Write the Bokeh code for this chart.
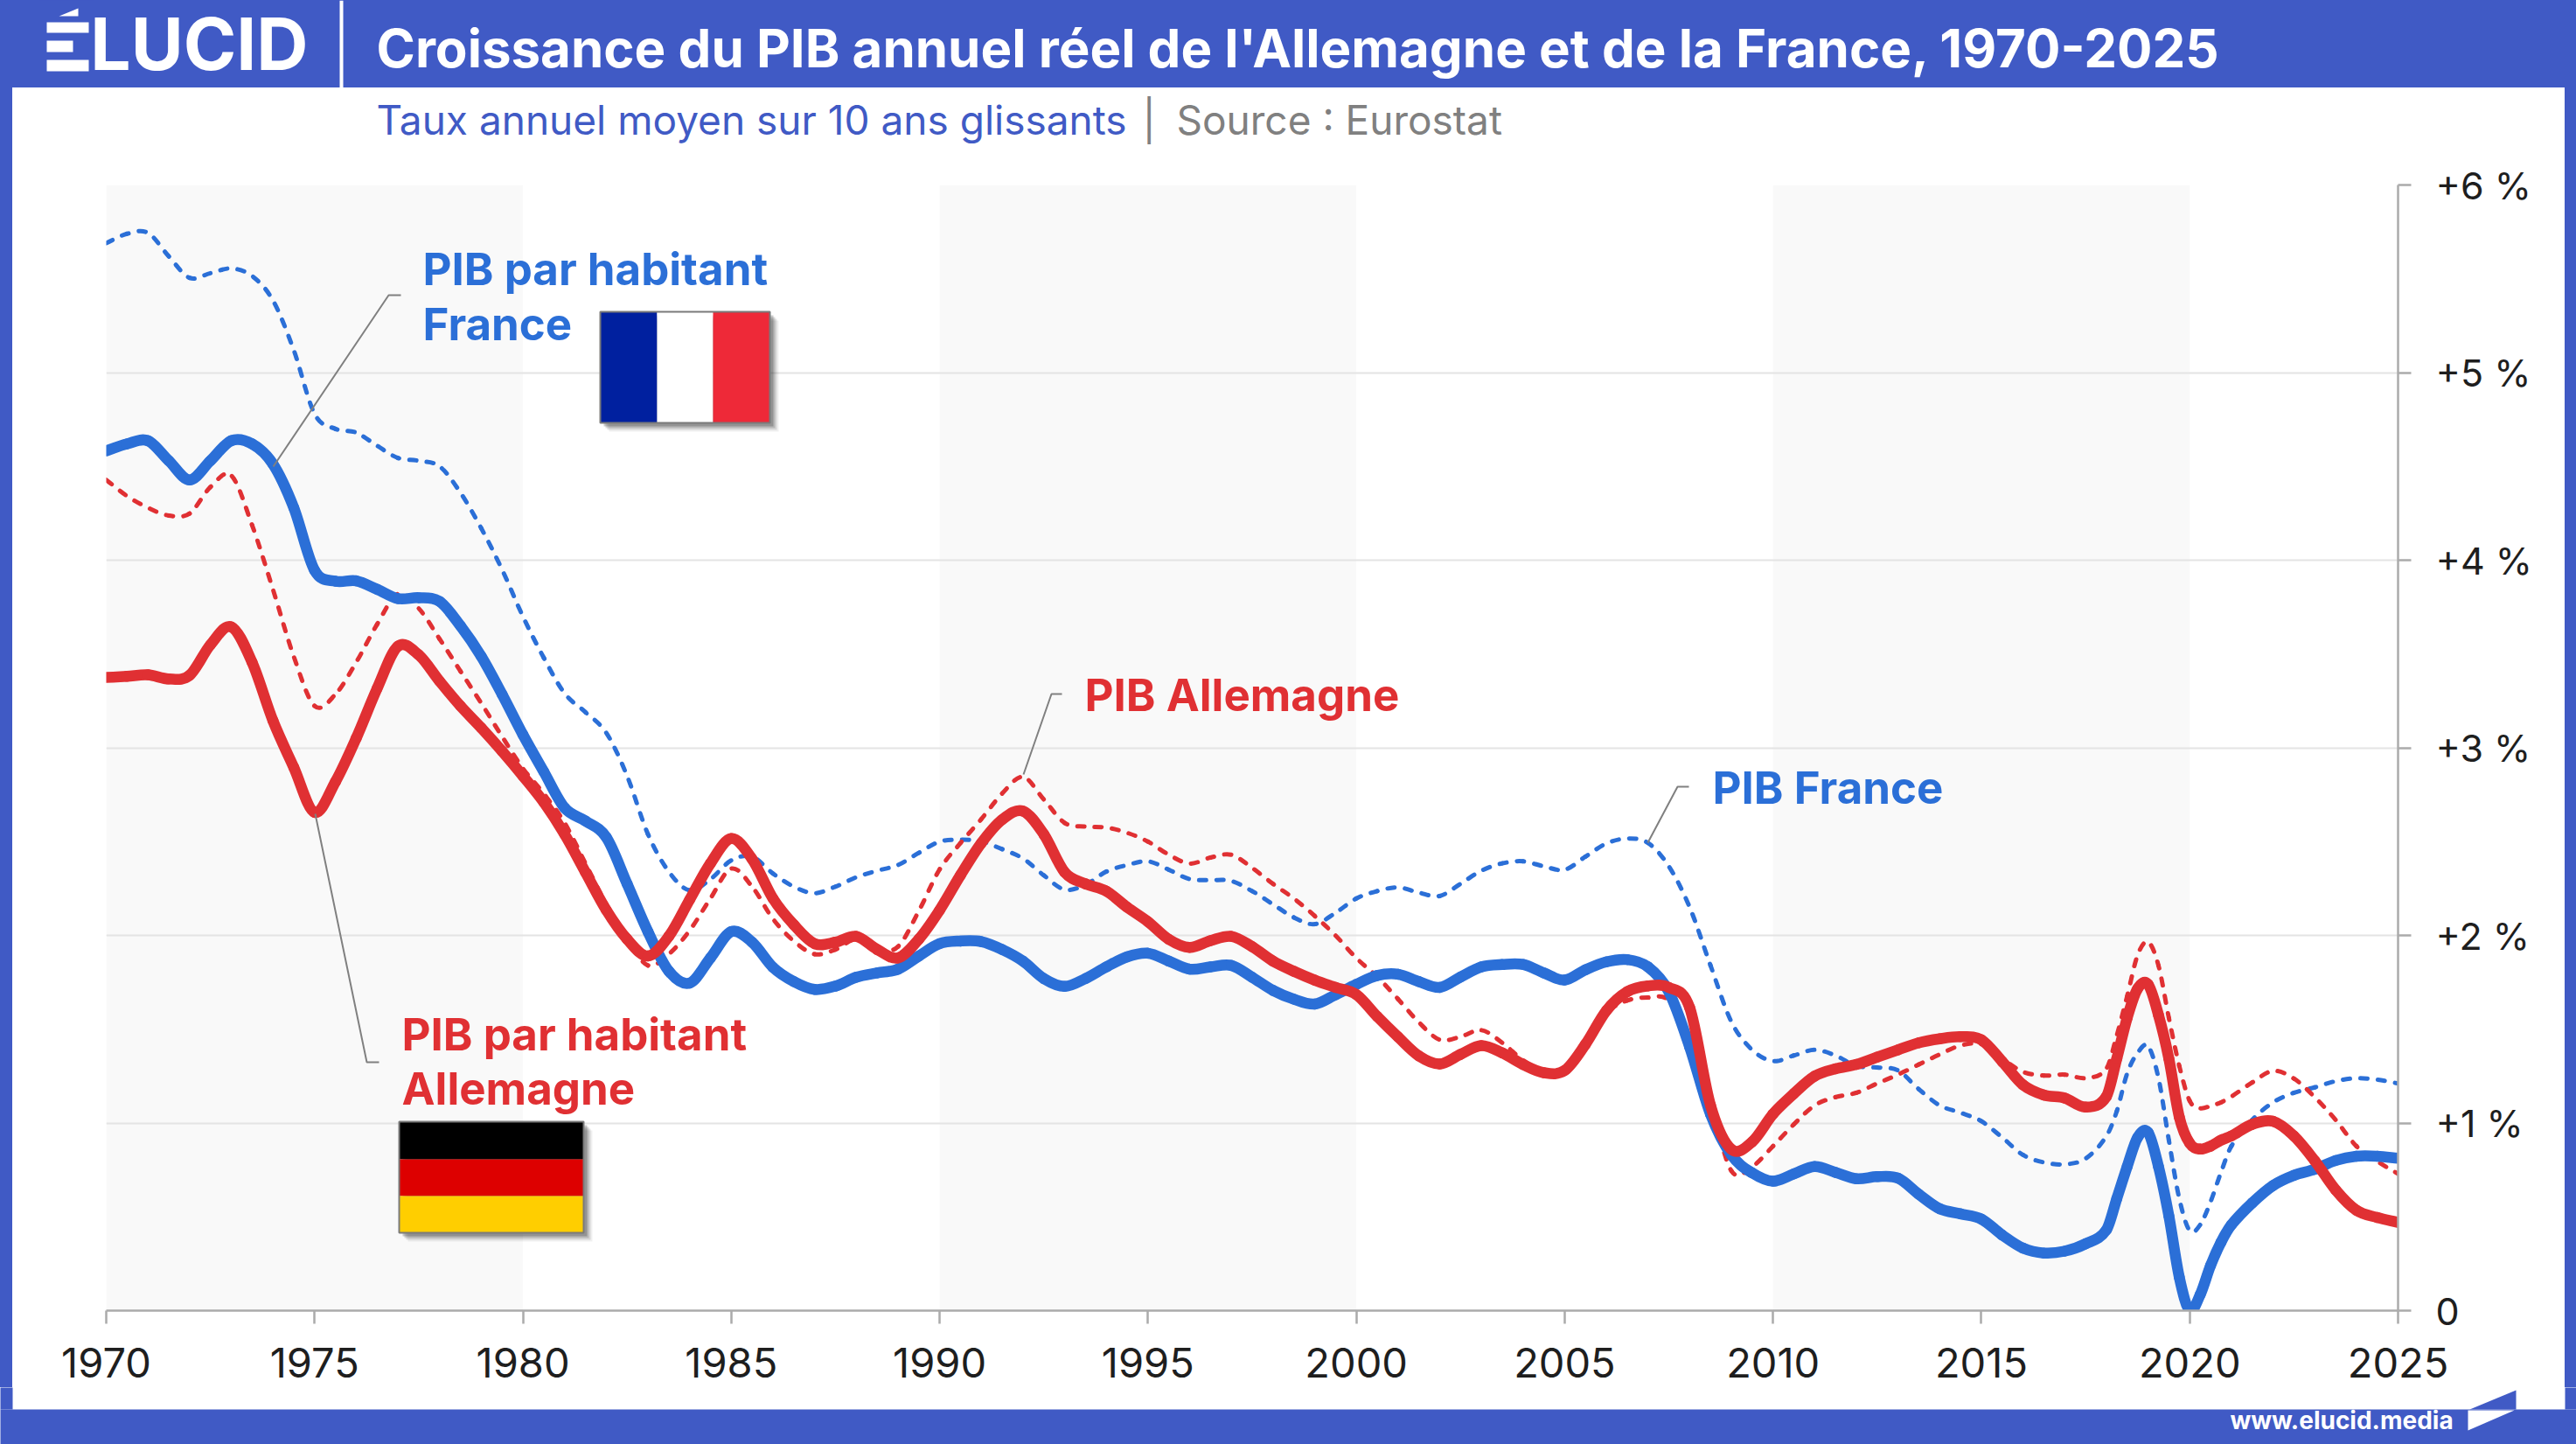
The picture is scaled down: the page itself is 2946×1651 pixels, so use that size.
from bokeh.plotting import figure
from bokeh.layouts import column
from bokeh.models import Range1d, FixedTicker
from bokeh.core.properties import value
from bokeh.embed import file_html
from bokeh.resources import INLINE

years = [1970,1970.5,1971,1971.5,1972,1972.5,1973,1973.5,1974,1974.5,
         1975,1975.5,1976,1976.5,1977,1977.5,1978,1978.5,1979,1979.5,
         1980,1980.5,1981,1981.5,1982,1982.5,1983,1983.5,1984,1984.5,
         1985,1985.5,1986,1986.5,1987,1987.5,1988,1988.5,1989,1989.5,
         1990,1990.5,1991,1991.5,1992,1992.5,1993,1993.5,1994,1994.5,
         1995,1995.5,1996,1996.5,1997,1997.5,1998,1998.5,1999,1999.5,
         2000,2000.5,2001,2001.5,2002,2002.5,2003,2003.5,2004,2004.5,
         2005,2005.5,2006,2006.5,2007,2007.5,2008,2008.5,2009,2009.5,
         2010,2010.5,2011,2011.5,2012,2012.5,2013,2013.5,2014,2014.5,
         2015,2015.5,2016,2016.5,2017,2017.5,
         2018,2018.25,2018.5,2018.75,2019,2019.25,2019.5,2019.75,2020,2020.25,2020.5,2020.75,
         2021,2021.5,2022,2022.5,2023,2023.5,2024,2024.5,2025]

pib_france = [5.69,5.74,5.745,5.62,5.505,5.53,5.555,5.515,5.385,5.12,
              4.78,4.70,4.68,4.61,4.545,4.53,4.50,4.36,4.17,3.95,
              3.70,3.48,3.29,3.19,3.08,2.85,2.54,2.34,2.24,2.30,
              2.40,2.42,2.33,2.26,2.225,2.26,2.31,2.345,2.375,2.44,
              2.50,2.51,2.50,2.46,2.41,2.32,2.244,2.27,2.34,2.375,
              2.395,2.35,2.30,2.295,2.29,2.236,2.166,2.096,2.06,2.12,
              2.197,2.236,2.256,2.228,2.21,2.275,2.345,2.384,2.395,2.368,
              2.35,2.42,2.49,2.516,2.493,2.368,2.15,1.84,1.54,1.39,
              1.33,1.36,1.39,1.36,1.304,1.296,1.28,1.18,1.094,1.055,
              1.01,0.923,0.83,0.79,0.78,0.81,
              0.93,1.063,1.265,1.374,1.41,1.24,0.908,0.597,0.426,0.457,0.58,0.737,
              0.877,1.017,1.11,1.161,1.19,1.223,1.239,1.231,1.211]

pib_allemagne = [4.428,4.342,4.28,4.238,4.249,4.39,4.451,4.187,3.845,3.487,
                 3.223,3.285,3.456,3.658,3.82,3.743,3.58,3.409,3.238,3.06,
                 2.89,2.756,2.60,2.384,2.166,1.98,1.84,1.90,2.026,2.197,
                 2.356,2.26,2.088,1.97,1.90,1.925,1.98,1.925,1.94,2.13,
                 2.352,2.492,2.62,2.756,2.845,2.725,2.60,2.58,2.575,2.547,
                 2.50,2.43,2.383,2.415,2.43,2.36,2.275,2.197,2.104,2.00,
                 1.879,1.78,1.661,1.537,1.444,1.46,1.495,1.428,1.335,1.273,
                 1.27,1.405,1.584,1.653,1.669,1.653,1.44,1.11,0.745,0.768,
                 0.877,0.993,1.094,1.138,1.161,1.211,1.258,1.312,1.366,1.413,
                 1.42,1.343,1.273,1.253,1.258,1.24,
                 1.29,1.467,1.677,1.895,1.965,1.84,1.56,1.304,1.118,1.079,1.091,1.11,
                 1.141,1.216,1.278,1.237,1.138,1.017,0.877,0.796,0.729]

hab_france = [4.583,4.62,4.637,4.53,4.428,4.53,4.637,4.62,4.513,4.28,
              3.946,3.888,3.89,3.845,3.795,3.80,3.78,3.65,3.487,3.285,
              3.07,2.873,2.68,2.61,2.523,2.275,2.02,1.81,1.746,1.88,
              2.02,1.964,1.83,1.754,1.712,1.73,1.777,1.80,1.82,1.89,
              1.956,1.97,1.967,1.925,1.863,1.77,1.728,1.77,1.832,1.886,
              1.905,1.863,1.82,1.832,1.84,1.777,1.707,1.66,1.634,1.684,
              1.739,1.786,1.793,1.754,1.723,1.778,1.832,1.845,1.845,1.80,
              1.762,1.817,1.859,1.871,1.832,1.70,1.405,1.047,0.83,0.734,
              0.69,0.729,0.768,0.737,0.703,0.714,0.706,0.62,0.543,0.516,
              0.488,0.403,0.333,0.307,0.317,0.356,
              0.43,0.597,0.768,0.923,0.95,0.768,0.504,0.178,0.0,0.084,0.24,0.364,
              0.457,0.574,0.667,0.721,0.753,0.80,0.823,0.823,0.812]

hab_allemagne = [3.375,3.381,3.389,3.367,3.386,3.549,3.645,3.456,3.145,2.896,
                 2.656,2.819,3.052,3.316,3.541,3.495,3.355,3.223,3.106,2.982,
                 2.85,2.71,2.539,2.337,2.135,1.98,1.89,1.995,2.19,2.384,
                 2.516,2.407,2.197,2.057,1.956,1.964,1.995,1.925,1.88,1.98,
                 2.135,2.321,2.492,2.617,2.663,2.539,2.337,2.275,2.236,2.15,
                 2.073,1.979,1.936,1.972,1.995,1.94,1.863,1.809,1.762,1.723,
                 1.685,1.568,1.459,1.358,1.315,1.366,1.413,1.374,1.312,1.268,
                 1.28,1.42,1.599,1.70,1.731,1.723,1.615,1.094,0.86,0.90,
                 1.048,1.157,1.25,1.289,1.312,1.351,1.39,1.428,1.449,1.46,
                 1.444,1.328,1.203,1.149,1.133,1.085,
                 1.141,1.343,1.561,1.716,1.739,1.576,1.343,1.032,0.892,0.861,0.877,0.908,
                 0.931,0.993,1.009,0.931,0.799,0.644,0.535,0.496,0.47]

band_start = [1970, 1990, 2010]
band_end = [1980, 2000, 2020]
x_ticks = [1970,1975,1980,1985,1990,1995,2000,2005,2010,2015,2020,2025]
y_ticks = [0,1,2,3,4,5,6]
y_labels = ["0","+1 %","+2 %","+3 %","+4 %","+5 %","+6 %"]

TITLE = "Croissance du PIB annuel réel de l'Allemagne et de la France, 1970-2025"
FRAME = "#405AC5"; BLUE = "#2B6FD7"; RED = "#E03033"; LEAD = "#808080"; FONT = "Inter"
L, R, T, B = 121, 2742, 211, 1498   # plot frame in page pixels
XPX = (R - L) / 55; YPX = (B - T) / 6
LIFT = 0.375   # the text baseline sits this many ems lower than asked for
SUB_BOTTOM = 185
OVERLAP = 2

main = figure(width=2919, height=1611-SUB_BOTTOM+OVERLAP, output_backend="svg", toolbar_location=None,
              x_range=Range1d(1970, 2025), y_range=Range1d(0, 6), y_axis_location="right",
              min_border_left=L-14, min_border_right=2933-R, min_border_top=T-SUB_BOTTOM+OVERLAP, min_border_bottom=1611-B,
              background_fill_color="white", border_fill_color="white", margin=(-OVERLAP, 13, 0, 14),
              frame_align=False, styles={"background-color": "white"})
p = main
p.outline_line_color = None
p.xgrid.visible = False
p.ygrid.ticker = FixedTicker(ticks=y_ticks)
p.ygrid.grid_line_color = "#E4E4E4"
p.ygrid.grid_line_width = 2

for ax in (p.xaxis[0], p.yaxis[0]):
    ax.axis_line_color = "#ABABAB"; ax.axis_line_width = 2.5
    ax.major_tick_line_color = "#ABABAB"; ax.major_tick_line_width = 2.5
    ax.major_tick_in = 0; ax.major_tick_out = 15
    ax.minor_tick_line_color = None
    ax.major_label_text_font = FONT
    ax.major_label_text_color = "#1E1E1E"
    ax.major_label_standoff = 27
p.yaxis[0].major_label_standoff = 28
p.xaxis[0].major_label_text_font_size = "47px"
p.yaxis[0].major_label_text_font_size = "43px"
p.xaxis[0].ticker = FixedTicker(ticks=x_ticks)
p.xaxis[0].major_label_overrides = {t: str(t) for t in x_ticks}
p.yaxis[0].ticker = FixedTicker(ticks=y_ticks)
p.yaxis[0].major_label_overrides = dict(zip(y_ticks, y_labels))

def dx(X): return 1970 + (X - L) / XPX
def dy(Y): return (B - Y) / YPX

p.quad(left=band_start, right=band_end, bottom=0, top=6, fill_color="#F9F9F9", line_color=None, level="image")

def smooth(xs, ys, color, width, dash=None):
    """Draw the read values as a smooth curve, one Bezier segment per pair of points."""
    n = len(xs)
    slope = [(ys[min(i+1, n-1)] - ys[max(i-1, 0)]) / (xs[min(i+1, n-1)] - xs[max(i-1, 0)]) for i in range(n)]
    x0, y0, x1, y1, cx0, cy0, cx1, cy1, off = [], [], [], [], [], [], [], [], []
    run = 0.0
    for i in range(n-1):
        h = xs[i+1] - xs[i]
        x0.append(xs[i]); y0.append(ys[i]); x1.append(xs[i+1]); y1.append(ys[i+1])
        cx0.append(xs[i] + h/3); cy0.append(ys[i] + slope[i]*h/3)
        cx1.append(xs[i+1] - h/3); cy1.append(ys[i+1] - slope[i+1]*h/3)
        off.append(run)
        pts = [(x0[-1], y0[-1]), (cx0[-1], cy0[-1]), (cx1[-1], cy1[-1]), (x1[-1], y1[-1])]
        plen = sum((((pts[k+1][0]-pts[k][0])*XPX)**2 + ((pts[k+1][1]-pts[k][1])*YPX)**2)**0.5 for k in range(3))
        chord = (((pts[3][0]-pts[0][0])*XPX)**2 + ((pts[3][1]-pts[0][1])*YPX)**2)**0.5
        run += (plen + chord) / 2
    kw = dict(line_color=color, line_width=width, line_cap="round")
    if dash:
        kw["line_dash"] = dash
        kw["line_dash_offset"] = off
    p.bezier(x0=x0, y0=y0, x1=x1, y1=y1, cx0=cx0, cy0=cy0, cx1=cx1, cy1=cy1, **kw)

smooth(years, pib_france, BLUE, 5, "8 12")
smooth(years, pib_allemagne, RED, 5, "8 12")
smooth(years, hab_france, BLUE, 12.5)
smooth(years, hab_allemagne, RED, 12.5)

# leader lines
for pts in ([(312,533),(444,337),(458,337)], [(360,930),(419,1214),(433,1214)],
            [(1170,885),(1202,793),(1214,793)], [(1884,963),(1918,899),(1931,899)]):
    p.line([dx(a) for a,_ in pts], [dy(b) for _,b in pts], line_color=LEAD, line_width=2)

# flags
def flag_rect(x0, x1, y0, y1, color, **kw):
    p.quad(left=dx(x0), right=dx(x1), top=dy(y0), bottom=dy(y1), fill_color=color, line_color=None, **kw)

for (x0,x1,y0,y1) in ((686,880,356,483),(456,667,1282,1409)):
    for off, a in ((10,0.06),(8,0.10),(6,0.14),(4,0.2)):
        flag_rect(x0+off, x1+off, y0+off, y1+off, "#000000", fill_alpha=a)
flag_rect(686, 751, 356, 483, "#00209F")
flag_rect(751, 815, 356, 483, "#FFFFFF")
flag_rect(815, 880, 356, 483, "#EE2938")
flag_rect(456, 667, 1282, 1325, "#000000")
flag_rect(456, 667, 1325, 1367, "#DD0000")
flag_rect(456, 667, 1367, 1409, "#FFCE00")
for (x0,x1,y0,y1) in ((686,880,356,483),(456,667,1282,1409)):
    p.quad(left=dx(x0), right=dx(x1), top=dy(y0), bottom=dy(y1), fill_color=None, line_color="#7A7A7A", line_width=2)

def txt(fig, x, y, s, size, color, bold=False):
    fig.text(x=[x], y=[y], text=[s], text_font=value(FONT), text_font_size=f"{size}px", text_color=color,
             text_baseline="alphabetic", text_align="left", text_font_style="bold" if bold else "normal")

def mtxt(X, Y, s, size, color, bold=False):
    txt(main, dx(X), dy(Y - LIFT*size), s, size, color, bold)

mtxt(483, 326, "PIB par habitant", 51, BLUE, True)
mtxt(483, 389, "France", 51, BLUE, True)
mtxt(1240, 813, "PIB Allemagne", 51, RED, True)
mtxt(1958, 919, "PIB France", 51, BLUE, True)
mtxt(459, 1201, "PIB par habitant", 51, RED, True)
mtxt(459, 1263, "Allemagne", 51, RED, True)

def strip(width, height, x0, x1, y0, y1, fill):
    f = figure(width=width, height=height, output_backend="svg", toolbar_location=None,
               x_range=Range1d(x0, x1), y_range=Range1d(y1, y0),
               min_border=0, background_fill_color=fill, border_fill_color=fill, frame_align=False,
               styles={"background-color": fill})
    f.axis.visible = False
    f.grid.visible = False
    f.outline_line_color = None
    return f

header = strip(2946, 100, 0, 2946, 0, 100, FRAME)
header.quad(left=388, right=392, top=0, bottom=100, fill_color="#FFFFFF", line_color=None)
txt(header, 53, 81 - LIFT*82, "ÉLUCID", 82, "#FFFFFF", True)
# the logo's striped E with its wedge accent
header.quad(left=45, right=107, top=0, bottom=92, fill_color=FRAME, line_color=None)
header.quad(left=[53, 53, 53], right=[101, 83, 101], top=[25, 46, 68], bottom=[37, 59, 81], fill_color="#FFFFFF", line_color=None)
header.patch(x=[67, 89, 89], y=[18, 9, 18], fill_color="#FFFFFF", line_color=None)
txt(header, 430, 77 - LIFT*60, TITLE, 60, "#FFFFFF", True)

subhead = strip(2919, SUB_BOTTOM-100, 14, 2933, 100, SUB_BOTTOM, "#FFFFFF")
subhead.margin = (0, 13, 0, 14)
txt(subhead, 430, 154 - LIFT*46, "Taux annuel moyen sur 10 ans glissants", 46, FRAME)
txt(subhead, 1306, 154 - LIFT*46, "|", 46, "#808080")
txt(subhead, 1345, 154 - LIFT*46, "Source : Eurostat", 46, "#808080")

footer = strip(2946, 65, 0, 2946, 1586, 1651, "#FFFFFF")
footer.margin = (-25, 0, 0, 0)
footer.quad(left=[-10, -10, 2933], right=[2960, 14, 2960], top=[1611, 1570, 1570], bottom=[1670, 1611, 1611],
            fill_color=FRAME, line_color=None)
footer.patch(x=[2824, 2877, 2877], y=[1611, 1589, 1611], fill_color=FRAME, line_color=None)
footer.patch(x=[2822, 2875, 2822], y=[1612, 1612, 1635], fill_color="#FFFFFF", line_color=None)
txt(footer, 2550, 1634 - LIFT*28, "www.elucid.media", 28, "#FFFFFF", True)

page = column(header, subhead, main, footer)
html = file_html(page, INLINE)
html = html.replace("<head>", f"<head><style>html,body{{background:{FRAME};overflow:hidden;margin:0}}</style>", 1)
open("out.html", "w").write(html)
